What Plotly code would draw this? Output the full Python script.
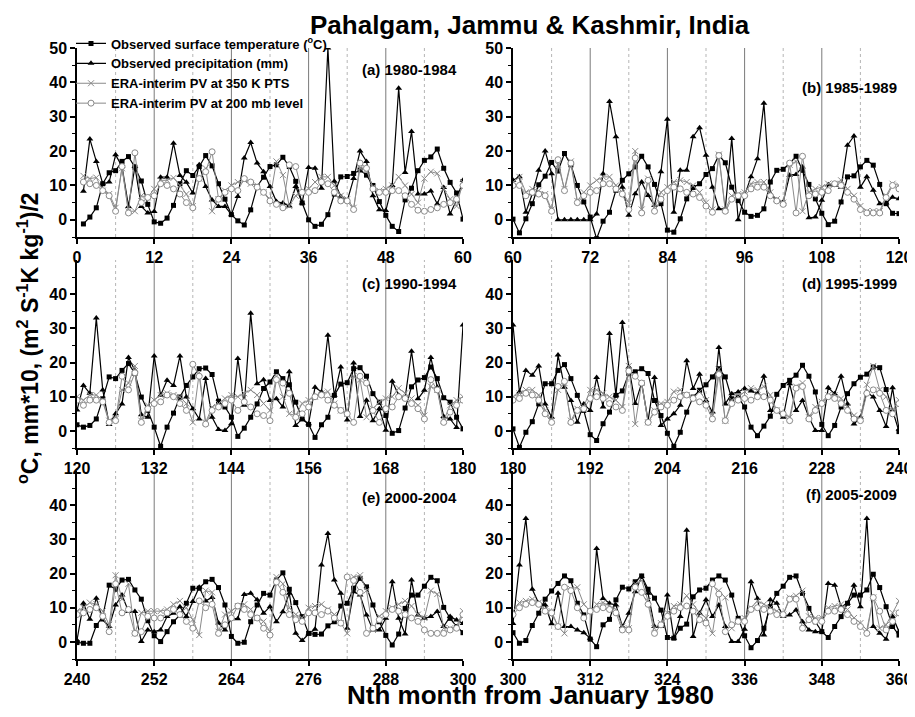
import plotly.graph_objects as go

months = list(range(1, 361))

temp = [
 -1.2, 0.8, 3.5, 10.5, 13.7, 14.3, 17.0, 18.4, 15.3, 11.3, 4.5, -0.6,
 -1.0, 0.5, 4.2, 10.5, 14.3, 12.9, 15.5, 18.7, 15.7, 10.5, 6.0, 1.5,
 -0.3, -1.5, 2.9, 9.7, 12.4, 15.5, 16.0, 18.2, 15.5, 11.2, 4.9, 0.0,
 -1.9, -1.3, 1.5, 7.5, 12.5, 12.6, 13.5, 14.5, 13.0, 10.0, 5.3, 1.3,
 -1.9, -3.4, 5.8, 9.2, 14.3, 17.3, 18.3, 20.6, 15.0, 10.9, 7.8, 0.2,
 -3.8, 0.3, 4.7, 10.2, 12.7, 16.7, 14.2, 19.3, 16.0, 10.0, 5.2, 0.8,
 -5.5, -0.4, 2.2, 8.6, 11.5, 13.4, 15.4, 18.5, 15.4, 10.3, 4.7, -3.0,
 -3.6, 0.3, 6.1, 9.4, 10.5, 13.2, 14.9, 18.8, 16.6, 9.5, 5.6, 2.2,
 1.0, 1.3, 3.2, 11.0, 14.4, 14.7, 16.4, 18.5, 14.4, 10.3, 6.1, 1.9,
 -1.4, -0.4, 5.2, 12.5, 12.8, 15.4, 17.3, 15.9, 10.3, 4.7, 1.9, 1.8,
 1.1, 1.6, 3.5, 9.4, 15.8, 15.3, 17.7, 19.7, 16.8, 9.9, 6.0, 1.1,
 -4.5, 1.1, 5.2, 9.9, 13.3, 15.8, 18.2, 18.4, 16.5, 8.7, 7.0, 4.0,
 -1.6, 0.8, 4.0, 7.9, 12.4, 14.3, 17.3, 15.3, 13.5, 8.4, 3.5, 1.9,
 -1.9, 1.8, 4.0, 10.4, 13.7, 14.1, 18.2, 18.5, 16.0, 10.9, 8.4, 4.5,
 -0.7, 0.1, 6.7, 12.9, 14.9, 15.6, 18.7, 15.3, 9.7, 8.4, 4.0, 0.6,
 -4.8, -0.4, 2.7, 7.9, 13.8, 13.8, 17.7, 19.4, 15.3, 10.4, 6.0, -1.1,
 -2.8, 2.1, 5.5, 10.4, 11.7, 16.8, 17.3, 18.2, 16.8, 8.9, 4.5, -0.7,
 -4.5, -0.4, 5.5, 9.9, 11.9, 13.5, 15.8, 18.2, 15.8, 9.4, 9.9, 7.0,
 1.1, -1.4, 1.4, 4.3, 10.7, 13.3, 14.8, 16.3, 19.2, 16.0, 11.4, 1.9,
 -1.4, 1.6, 7.0, 10.9, 13.8, 15.7, 16.6, 18.7, 18.5, 12.1, 5.5, -0.2,
 -0.4, -0.4, 4.8, 7.4, 16.6, 15.4, 18.1, 18.3, 15.2, 12.5, 6.2, 1.8,
 0.1, 3.0, 5.9, 7.9, 11.3, 15.7, 15.7, 17.6, 18.3, 15.9, 10.8, 1.6,
 -0.4, -0.1, 5.9, 10.8, 14.2, 13.7, 18.1, 20.2, 15.4, 11.5, 7.4, 2.5,
 2.2, 2.3, 4.7, 5.9, 10.5, 11.3, 15.7, 18.6, 16.1, 10.8, 5.9, 1.9,
 -0.9, 2.3, 9.8, 13.7, 13.7, 16.3, 18.9, 17.9, 10.1, 6.9, 4.5, 2.7,
 -0.4, 0.4, 4.8, 8.4, 12.5, 14.9, 17.1, 19.3, 17.9, 11.3, 7.9, 0.8,
 -1.4, 5.0, 6.6, 12.3, 16.0, 15.5, 17.6, 19.3, 15.4, 12.8, 9.3, 1.3,
 1.1, 4.0, 5.2, 13.2, 15.2, 15.7, 18.1, 19.3, 18.1, 13.7, 6.9, 1.8,
 -1.7, 0.4, 4.0, 10.3, 14.2, 16.3, 18.9, 19.3, 14.2, 9.8, 5.9, 3.0,
 1.3, 4.5, 7.4, 11.3, 13.7, 13.7, 15.2, 19.8, 15.9, 10.3, 4.5, 2.0,
]

precip = [
 8.3, 23.5, 17.0, 10.5, 11.0, 18.9, 15.5, 3.9, 15.5, 3.9, 2.0, 2.4,
 12.4, 12.4, 22.3, 12.9, 10.9, 7.8, 16.0, 9.7, 5.8, 3.9, 3.9, 1.5,
 6.8, 18.0, 22.5, 16.5, 14.0, 9.7, 5.3, 4.9, 4.0, 9.7, 4.9, 15.2,
 15.0, 9.2, 50.0, 11.2, 6.8, 5.5, 12.0, 20.0, 17.0, 7.0, 2.9, 2.7,
 10.0, 38.3, 13.8, 25.7, 7.5, 7.5, 8.4, 4.6, 9.4, 1.7, 5.8, 11.5,
 12.5, 2.2, 7.6, 14.4, 20.0, 13.4, 0.0, 0.0, 0.0, 0.0, 0.0, 0.0,
 1.7, 13.4, 34.4, 24.2, 9.5, 1.3, 7.6, 11.0, 7.1, 4.2, 14.0, 29.3,
 2.2, 14.4, 14.4, 24.2, 26.8, 18.8, 9.5, 3.2, 3.2, 23.7, 0.0, 7.1,
 12.5, 17.8, 33.9, 7.6, 5.7, 5.2, 13.0, 13.2, 15.4, 0.6, 0.8, 5.7,
 10.2, 10.0, 9.5, 21.7, 24.4, 9.5, 12.5, 8.6, 4.7, 4.9, 6.6, 6.1,
 13.3, 11.0, 33.0, 12.0, 1.9, 5.0, 7.9, 21.5, 17.7, 4.7, 4.0, 21.9,
 10.4, 14.8, 13.3, 21.9, 9.9, 6.5, 3.5, 15.3, 4.0, 0.4, 0.1, 2.1,
 21.2, 7.5, 34.4, 13.8, 15.0, 8.9, 9.4, 7.0, 17.3, 1.6, 3.5, 2.1,
 12.8, 11.4, 28.0, 10.4, 18.7, 3.2, 19.9, 4.2, 9.0, 3.0, 6.5, 0.2,
 14.5, 10.4, 9.6, 23.3, 9.4, 11.9, 21.5, 12.8, 4.2, 3.5, 1.0, 31.0,
 11.4, 17.7, 16.3, 19.0, 7.9, 4.0, 22.2, 12.8, 8.9, 2.5, 7.9, 6.0,
 15.6, 7.0, 28.5, 10.4, 31.7, 18.7, 8.0, 14.0, 3.0, 15.6, 1.6, 3.5,
 5.0, 7.5, 20.5, 12.4, 16.6, 8.9, 5.5, 24.4, 7.9, 10.9, 11.4, 12.4,
 11.7, 10.9, 16.0, 6.0, 6.0, 4.0, 13.8, 6.0, 8.9, 4.0, 0.1, 0.1,
 12.6, 10.9, 16.0, 7.9, 2.0, 4.0, 11.4, 9.9, 6.0, 1.3, 12.6, 0.5,
 11.3, 6.6, 12.8, 6.4, 4.5, 10.8, 13.7, 8.9, 8.9, 0.1, 3.5, 3.0,
 3.5, 7.4, 8.4, 10.3, 7.4, 11.8, 16.0, 12.0, 13.0, 5.5, 3.5, 6.8,
 6.8, 13.9, 14.2, 12.3, 8.4, 10.3, 5.9, 8.8, 14.2, 2.5, 0.4, 2.3,
 3.7, 22.5, 31.7, 18.1, 14.2, 4.0, 14.7, 13.7, 7.9, 3.5, 3.5, 6.9,
 17.6, 6.9, 2.3, 18.1, 7.9, 6.9, 7.4, 8.9, 4.5, 7.4, 6.4, 5.4,
 22.5, 36.1, 15.4, 11.3, 10.8, 5.3, 14.2, 4.5, 4.5, 3.5, 2.7, 1.1,
 27.3, 12.7, 11.3, 10.8, 4.5, 8.4, 14.7, 19.1, 14.2, 4.5, 4.5, 13.7,
 1.1, 7.4, 32.7, 1.6, 8.4, 12.3, 7.4, 10.8, 4.5, 0.1, 0.1, 3.7,
 17.6, 12.7, 2.0, 12.3, 11.3, 7.4, 7.9, 9.3, 5.9, 3.5, 3.0, 3.0,
 17.1, 16.6, 10.3, 11.3, 16.6, 10.3, 36.1, 4.5, 2.5, 0.8, 7.4, 3.0,
]

pv350 = [
 12.8, 12.0, 12.3, 8.5, 7.5, 3.5, 15.0, 2.5, 2.5, 7.0, 6.5, 9.0,
 11.5, 11.5, 12.2, 10.0, 7.5, 4.0, 12.0, 15.0, 2.5, 6.0, 8.5, 10.0,
 11.0, 11.5, 10.5, 10.0, 8.0, 6.0, 17.0, 13.0, 4.0, 7.0, 8.0, 9.0,
 11.0, 12.5, 12.5, 10.0, 7.0, 6.0, 3.5, 15.0, 14.5, 9.5, 8.5, 9.0,
 10.0, 12.5, 10.0, 7.5, 5.0, 12.0, 14.0, 13.5, 9.0, 6.0, 4.0, 11.0,
 12.5, 8.0, 9.0, 8.5, 7.5, 3.0, 16.0, 9.0, 17.0, 5.5, 8.0, 10.0,
 11.5, 12.5, 12.5, 10.0, 8.0, 5.0, 20.0, 3.0, 12.0, 3.5, 8.0, 9.5,
 11.0, 11.5, 11.0, 10.0, 8.0, 5.0, 3.0, 19.0, 3.0, 7.0, 7.5, 8.0,
 10.5, 11.0, 11.0, 8.0, 6.0, 5.0, 16.0, 17.0, 2.5, 8.0, 9.0, 9.5,
 10.5, 10.5, 11.5, 9.0, 7.0, 4.0, 2.5, 2.5, 2.5, 7.0, 10.5, 10.0,
 9.0, 10.5, 10.5, 9.0, 3.0, 3.5, 12.0, 14.0, 19.0, 3.0, 7.5, 9.0,
 10.5, 11.0, 10.5, 10.0, 8.0, 2.5, 17.0, 2.5, 7.0, 8.0, 9.5, 10.5,
 10.0, 11.0, 12.0, 10.5, 8.0, 6.0, 16.0, 10.0, 5.0, 4.5, 8.0, 9.0,
 10.0, 11.0, 11.5, 8.0, 6.0, 5.0, 16.0, 15.0, 4.0, 6.5, 8.5, 9.5,
 10.0, 12.5, 11.0, 9.5, 7.5, 4.5, 13.0, 12.0, 3.0, 7.5, 9.0, 10.0,
 11.0, 12.0, 12.0, 10.5, 6.0, 3.0, 12.0, 14.0, 3.0, 6.5, 7.0, 12.0,
 12.0, 11.0, 10.0, 9.0, 7.0, 19.0, 2.0, 14.0, 2.5, 6.0, 8.0, 8.5,
 11.5, 12.0, 10.5, 9.5, 11.5, 9.0, 4.5, 18.0, 3.0, 9.0, 10.0, 11.5,
 12.5, 12.0, 13.0, 10.5, 6.0, 5.0, 4.0, 13.0, 14.0, 4.0, 7.0, 8.5,
 10.5, 10.5, 9.5, 7.0, 4.5, 3.5, 13.5, 19.0, 12.0, 10.0, 6.0, 9.0,
 10.0, 11.5, 11.0, 9.0, 5.0, 19.5, 12.5, 17.0, 2.5, 8.5, 9.0, 9.0,
 9.0, 9.5, 11.0, 12.0, 10.0, 6.5, 2.0, 15.0, 14.5, 3.0, 8.0, 9.0,
 10.5, 11.0, 9.5, 7.0, 6.0, 3.0, 19.0, 17.0, 10.0, 8.0, 7.0, 10.0,
 10.5, 11.0, 9.5, 8.0, 5.5, 2.5, 19.0, 19.5, 15.0, 3.5, 7.5, 9.0,
 10.0, 11.0, 12.0, 10.5, 8.0, 7.0, 15.0, 14.0, 4.0, 4.0, 4.5, 9.0,
 11.5, 12.0, 12.5, 11.5, 9.5, 9.0, 4.5, 2.5, 15.5, 16.0, 11.0, 9.0,
 11.0, 11.5, 10.5, 9.5, 4.5, 4.0, 17.0, 18.0, 12.0, 4.0, 5.5, 8.5,
 10.5, 11.0, 13.5, 11.0, 8.5, 7.0, 2.5, 15.0, 13.0, 4.0, 6.0, 7.0,
 10.0, 12.0, 11.0, 10.0, 9.0, 8.0, 13.0, 13.5, 15.0, 7.5, 7.0, 7.0,
 10.0, 10.5, 11.0, 9.5, 7.0, 5.5, 3.5, 13.0, 4.0, 5.0, 8.5, 12.0,
]

pv200 = [
 11.0, 10.5, 10.0, 8.5, 7.0, 2.5, 15.5, 2.0, 19.5, 5.0, 6.5, 7.0,
 10.5, 10.0, 9.0, 7.5, 5.0, 3.5, 12.0, 14.0, 19.8, 6.0, 8.0, 9.0,
 8.5, 12.0, 11.0, 9.5, 8.0, 5.5, 4.5, 3.5, 16.0, 15.5, 8.0, 8.0,
 8.5, 11.0, 10.5, 8.0, 5.5, 5.5, 3.0, 16.5, 15.0, 9.0, 8.0, 8.0,
 8.5, 8.5, 7.0, 4.5, 2.8, 2.5, 3.0, 3.5, 4.5, 5.0, 6.0, 10.0,
 10.0, 7.0, 8.0, 7.5, 7.0, 2.5, 17.5, 8.5, 16.5, 5.0, 7.0, 8.0,
 8.5, 10.5, 10.5, 9.0, 7.5, 3.0, 18.0, 2.0, 11.5, 2.5, 6.0, 8.5,
 9.5, 9.0, 8.0, 7.5, 6.5, 4.0, 2.2, 18.7, 2.5, 6.0, 7.0, 7.0,
 9.0, 9.5, 9.5, 7.0, 5.5, 4.5, 16.5, 2.0, 18.5, 7.0, 7.5, 8.0,
 8.5, 10.5, 10.0, 8.0, 6.0, 3.0, 2.0, 2.0, 2.0, 6.5, 10.0, 9.0,
 7.5, 9.0, 9.0, 8.5, 2.5, 3.0, 16.0, 12.0, 17.0, 2.5, 6.5, 8.0,
 8.5, 10.5, 10.0, 8.0, 6.0, 19.5, 16.0, 2.0, 6.0, 7.0, 8.0, 9.0,
 6.0, 8.5, 7.0, 5.0, 4.5, 3.0, 15.0, 14.0, 11.0, 4.0, 5.0, 7.0,
 10.0, 10.5, 9.0, 7.5, 6.0, 5.0, 2.5, 16.0, 14.0, 6.0, 2.5, 6.5,
 7.0, 10.0, 9.5, 8.0, 6.5, 3.5, 15.0, 12.0, 2.5, 5.5, 7.5, 9.0,
 9.5, 11.0, 10.5, 9.0, 5.0, 2.5, 13.0, 14.5, 2.5, 6.0, 6.5, 9.5,
 10.0, 9.5, 8.0, 7.0, 6.0, 17.5, 16.0, 14.0, 2.5, 5.5, 7.0, 7.5,
 9.0, 10.0, 10.5, 9.5, 8.5, 7.5, 3.5, 16.5, 3.0, 8.0, 9.0, 9.5,
 9.0, 10.0, 10.0, 9.0, 6.0, 5.0, 3.0, 12.5, 13.0, 3.5, 6.0, 8.0,
 10.0, 9.5, 8.0, 6.0, 3.5, 3.0, 11.0, 12.0, 11.0, 6.0, 5.0, 8.0,
 8.5, 9.5, 10.0, 7.5, 3.0, 17.0, 8.5, 9.5, 2.5, 3.0, 7.5, 7.0,
 7.0, 8.5, 9.5, 8.0, 6.0, 4.0, 12.0, 10.0, 11.0, 2.5, 5.0, 7.0,
 10.5, 9.5, 8.0, 7.0, 4.0, 2.0, 17.5, 14.5, 8.0, 6.5, 6.0, 8.5,
 8.5, 8.0, 9.0, 7.0, 5.5, 19.0, 18.0, 14.5, 2.5, 4.0, 6.5, 8.0,
 9.5, 9.0, 8.0, 7.0, 6.0, 3.5, 2.5, 2.5, 2.5, 3.5, 4.0, 8.0,
 10.0, 11.0, 11.5, 11.0, 9.0, 8.5, 4.5, 16.0, 15.0, 10.0, 7.0, 9.0,
 9.5, 10.0, 9.5, 8.5, 3.5, 3.5, 16.0, 14.5, 11.0, 2.5, 5.0, 7.5,
 9.0, 10.0, 10.5, 9.0, 6.5, 5.5, 17.0, 14.0, 3.0, 5.0, 6.0, 6.0,
 9.5, 10.0, 9.5, 9.0, 8.0, 8.0, 12.5, 12.5, 4.0, 6.5, 6.0, 6.0,
 9.0, 9.0, 9.5, 8.0, 6.0, 4.5, 2.5, 13.0, 9.0, 3.5, 6.0, 8.5,
]

panel_labels = ["(a) 1980-1984", "(b) 1985-1989", "(c) 1990-1994",
                "(d) 1995-1999", "(e) 2000-2004", "(f) 2005-2009"]
series_names = ["Observed surface temperature (<sup>o</sup>C)",
                "Observed precipitation (mm)",
                "ERA-interim PV at 350 K PTS",
                "ERA-interim PV at 200 mb level"]

# The page body adds an 8px offset, so the figure is drawn 8px smaller
OFF = 8
W, H = 915 - OFF, 717 - OFF
FONT = "Liberation Sans, Arial, sans-serif"
GRAY = "#8a8a8a"


def fx(px):
    return (px - OFF) / W


def fy(py):
    return 1 - (py - OFF) / H


# pixel layout of panels (in screen pixels)
col_x = [(77, 463), (513, 899)]
row_y = [(48, 237), (260, 448), (471, 659)]

fig = go.Figure()
layout = {}
shapes = []
annotations = []

label_ypix = [70, 87, 283, 283, 497, 494]
label_right = [459, 899, 459, 899, 459, 899]

for k in range(6):
    r, c = divmod(k, 2)
    ax = "" if k == 0 else str(k + 1)
    xa, ya = "x" + ax, "y" + ax
    lo, hi = 60 * k, 60 * k + 60
    idx = [i for i, m in enumerate(months) if lo <= m <= hi]
    xs = [months[i] for i in idx]
    sl = lambda arr: [arr[i] for i in idx]
    show = (k == 0)
    fig.add_trace(go.Scatter(x=xs, y=sl(temp), mode="lines+markers", name=series_names[0],
                             line=dict(color="black", width=1.2),
                             marker=dict(symbol="square", size=5, color="black"),
                             xaxis=xa, yaxis=ya, showlegend=show, legendrank=1))
    fig.add_trace(go.Scatter(x=xs, y=sl(precip), mode="lines+markers", name=series_names[1],
                             line=dict(color="black", width=1.2),
                             marker=dict(symbol="triangle-up", size=6, color="black"),
                             xaxis=xa, yaxis=ya, showlegend=show, legendrank=2))
    fig.add_trace(go.Scatter(x=xs, y=sl(pv350), mode="lines+markers", name=series_names[2],
                             line=dict(color=GRAY, width=1),
                             marker=dict(symbol="x-thin", size=6, color=GRAY,
                                         line=dict(color=GRAY, width=1)),
                             xaxis=xa, yaxis=ya, showlegend=show, legendrank=3))
    fig.add_trace(go.Scatter(x=xs, y=sl(pv200), mode="lines+markers", name=series_names[3],
                             line=dict(color=GRAY, width=1),
                             marker=dict(symbol="circle", size=6, color="white",
                                         line=dict(color=GRAY, width=1)),
                             xaxis=xa, yaxis=ya, showlegend=show, legendrank=4))

    x0, x1 = col_x[c]
    y0, y1 = row_y[r]
    xkey = "xaxis" + ax
    ykey = "yaxis" + ax
    layout[xkey] = dict(
        domain=[fx(x0), fx(x1)], anchor=ya, range=[lo, hi], automargin=False,
        tickmode="array", tickvals=list(range(lo, hi + 1, 12)),
        showline=True, linecolor="black", linewidth=1.5,
        ticks="outside", ticklen=5, tickwidth=1.5, tickcolor="black",
        showgrid=False, zeroline=False,
        tickfont=dict(family=FONT, size=16, color="black", weight="bold"),
    )
    yt = [0, 10, 20, 30, 40, 50] if r == 0 else [0, 10, 20, 30, 40]
    layout[ykey] = dict(
        domain=[fy(y1), fy(y0)], anchor=xa, range=[-5, 50], automargin=False,
        tickmode="array", tickvals=yt,
        showline=True, linecolor="black", linewidth=1.5,
        ticks="outside", ticklen=5, tickwidth=1.5, tickcolor="black",
        minor=dict(tickmode="array", tickvals=[-5, 5, 15, 25, 35, 45], ticks="outside",
                   ticklen=3, tickwidth=1, tickcolor="black"),
        showgrid=False, zeroline=False,
        tickfont=dict(family=FONT, size=16, color="black", weight="bold"),
    )
    # year / half-year reference lines
    for m in range(lo + 6, hi, 6):
        solid = (m % 12 == 0)
        shapes.append(dict(type="line", xref=xa, yref=ya + " domain",
                           x0=m, x1=m, y0=0, y1=1, layer="below",
                           line=dict(color="#7a7a7a" if solid else "#b5b5b5",
                                     width=1, dash="solid" if solid else "dot")))
    annotations.append(dict(
        xref="paper", yref="paper", x=fx(label_right[k]), y=fy(label_ypix[k]),
        xanchor="right", yanchor="middle", showarrow=False, text=panel_labels[k],
        font=dict(family=FONT, size=15, color="black", weight="bold")))

annotations.append(dict(xref="paper", yref="paper", x=fx(530), y=fy(25),
                        xanchor="center", yanchor="middle", showarrow=False,
                        text="Pahalgam, Jammu &amp; Kashmir, India",
                        font=dict(family=FONT, size=26, color="black", weight="bold")))
annotations.append(dict(xref="paper", yref="paper", x=fx(530), y=fy(695),
                        xanchor="center", yanchor="middle", showarrow=False,
                        text="Nth month from January 1980",
                        font=dict(family=FONT, size=26, color="black", weight="bold")))
annotations.append(dict(xref="paper", yref="paper", x=fx(28), y=fy(338),
                        xanchor="center", yanchor="middle", showarrow=False, textangle=-90,
                        text="<sup>o</sup>C, mm*10, (m<sup>2</sup> S<sup>-1</sup>K kg<sup>-1</sup>)/2",
                        font=dict(family=FONT, size=23, color="black", weight="bold")))

fig.update_layout(
    width=W, height=H, autosize=False, margin=dict(l=0, r=0, t=0, b=0, pad=0),
    paper_bgcolor="white", plot_bgcolor="white",
    shapes=shapes, annotations=annotations,
    legend=dict(x=fx(71), y=fy(28.5), xanchor="left", yanchor="top",
                bgcolor="rgba(0,0,0,0)", borderwidth=0, tracegroupgap=0,
                font=dict(family=FONT, size=13, color="black", weight="bold")),
    **layout,
)

fig.write_html("out.html")
